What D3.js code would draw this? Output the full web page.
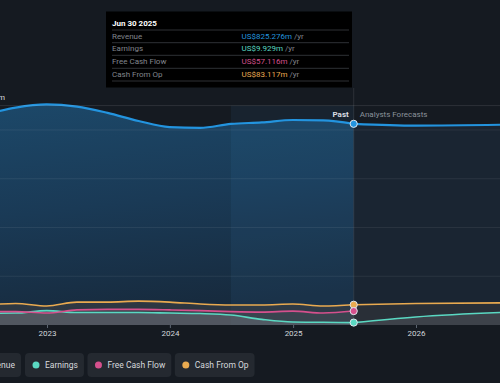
<!DOCTYPE html>
<html><head><meta charset="utf-8">
<script src="https://cdn.jsdelivr.net/npm/d3@7"></script>
<style>
html,body{margin:0;padding:0;background:#151a21;}
svg{display:block;font-family:Roboto,"Open Sans",sans-serif;}
</style></head><body>
<svg id="c" width="500" height="383"></svg>
<script>
// ---- data ----
const pastDates = ["2022-06-30","2022-09-30","2022-12-31","2023-03-31","2023-06-30","2023-09-30","2023-12-31","2024-03-31","2024-06-30","2024-09-30","2024-12-31","2025-03-31","2025-06-30"];
const revenue   = [862, 892, 905, 896, 870, 837, 812, 809, 825, 831, 841, 839, 825.276];
const earnings  = [48, 49, 59, 51, 51, 51, 49, 47, 41, 23, 12, 11, 9.929];
const fcf       = [55, 55, 49, 62, 64, 64, 62, 59, 55, 53, 57, 49, 57.116];
const cfo       = [82, 88, 78, 94, 94, 98, 94, 86, 82, 82, 86, 78, 83.117];
const fcDates    = ["2025-06-30","2025-12-31","2026-12-31"];
const fcRevenue  = [825.276, 818, 824];
const fcEarnings = [9.929, 33, 57];
const fcCfo      = [83.117, 88, 92];
const yTicks = [0, 200, 400, 600, 800, 900];
const xTickYears = [2023, 2024, 2025, 2026];
const seriesNames = ["Revenue","Earnings","Free Cash Flow","Cash From Op"];
const seriesColors = ["#2394df","#5ad8c2","#d5508d","#e9aa50"];
const tipValues = ["US$825.276m","US$9.929m","US$57.116m","US$83.117m"];
const tipDate = "Jun 30 2025";
const yLabel = "US$900m";

// ---- setup ----
const svg = d3.select("#c");
const W = 500;
const parse = d3.timeParse("%Y-%m-%d");
const x = d3.scaleTime().domain([new Date(2023,0,1), new Date(2026,0,1)]).range([47, 416]);
const y = d3.scaleLinear().domain([0, 900]).range([325, 105.6]);
const nowDate = parse("2025-06-30");
const nowX = x(nowDate);
const bandX = x(parse("2024-06-30"));

const mk = (dates, vals) => dates.map((d,i)=>({d:parse(d), v:vals[i]}));
const past = {rev: mk(pastDates, revenue), earn: mk(pastDates, earnings), fcf: mk(pastDates, fcf), cfo: mk(pastDates, cfo)};
const fc = {rev: mk(fcDates, fcRevenue), earn: mk(fcDates, fcEarnings), cfo: mk(fcDates, fcCfo)};

const curve = d3.curveMonotoneX;
const line = d3.line().x(p=>x(p.d)).y(p=>y(p.v)).curve(curve);
const area = d3.area().x(p=>x(p.d)).y0(y(0)).y1(p=>y(p.v)).curve(curve);

const defs = svg.append("defs");
const g1 = defs.append("linearGradient").attr("id","pastGrad").attr("x1","0").attr("y1","0").attr("x2","0.2").attr("y2","1");
g1.append("stop").attr("offset","0").attr("stop-color","#1c4869");
g1.append("stop").attr("offset","0.5").attr("stop-color","#1a3a56");
g1.append("stop").attr("offset","1").attr("stop-color","#172a3d");
defs.append("clipPath").attr("id","clipPast").append("rect").attr("x",-10).attr("y",0).attr("width",nowX+10).attr("height",383);
defs.append("clipPath").attr("id","clipFc").append("rect").attr("x",nowX).attr("y",0).attr("width",W).attr("height",383);

// revenue areas
svg.append("path").datum(past.rev).attr("d",area).attr("fill","url(#pastGrad)").attr("clip-path","url(#clipPast)");
svg.append("path").datum(fc.rev).attr("d",area).attr("fill","#1a2532").attr("clip-path","url(#clipFc)");

// highlight band (last year)
svg.append("rect").attr("x",bandX).attr("y",y(900)).attr("width",nowX-bandX).attr("height",y(0)-y(900))
  .attr("fill","#3b93d6").attr("opacity",0.08);

// gridlines
svg.append("g").selectAll("line").data(yTicks.filter(t=>t>0 && t<900)).join("line")
  .attr("x1",0).attr("x2",W).attr("y1",d=>y(d)).attr("y2",d=>y(d))
  .attr("stroke","#ffffff").attr("stroke-opacity",0.07).attr("stroke-width",1);

// lower series areas
const lowFill = (data, clip, color, op) => svg.append("path").datum(data).attr("d",area)
  .attr("fill",color).attr("fill-opacity",op).attr("clip-path",clip);
lowFill(past.cfo, "url(#clipPast)", "#3c3f44", 0.6);
lowFill(past.fcf, "url(#clipPast)", "#6a6d72", 0.2);
lowFill(past.earn, "url(#clipPast)", "#8e9196", 0.28);
lowFill(fc.cfo, "url(#clipFc)", "#34373b", 0.6);
lowFill(fc.earn, "url(#clipFc)", "#7a7d82", 0.25);

// now line
svg.append("line").attr("x1",nowX).attr("x2",nowX).attr("y1",88).attr("y2",y(0))
  .attr("stroke","#ffffff").attr("stroke-opacity",0.1);

// lines
const drawLine = (data, color, w) => svg.append("path").datum(data).attr("d",line)
  .attr("fill","none").attr("stroke",color).attr("stroke-width",w);
drawLine(past.earn, seriesColors[1], 1.6);
drawLine(fc.earn, seriesColors[1], 1.6);
drawLine(past.fcf, seriesColors[2], 1.6);
drawLine(past.cfo, seriesColors[3], 1.6);
drawLine(fc.cfo, seriesColors[3], 1.6);
drawLine(past.rev, seriesColors[0], 2.2);
drawLine(fc.rev, seriesColors[0], 2.2);

// points at now
const nowPts = [[revenue.at(-1),0],[cfo.at(-1),3],[fcf.at(-1),2],[earnings.at(-1),1]];
svg.append("g").selectAll("circle").data(nowPts).join("circle")
  .attr("cx",nowX).attr("cy",d=>y(d[0])).attr("r",3.6)
  .attr("fill",d=>seriesColors[d[1]]).attr("stroke","#dfe6ee").attr("stroke-width",1);

// top line & y label
svg.append("line").attr("x1",0).attr("x2",W).attr("y1",y(900)).attr("y2",y(900))
  .attr("stroke","#ffffff").attr("stroke-opacity",0.1);
svg.append("text").attr("x",5).attr("y",y(900)-6).attr("text-anchor","end")
  .attr("font-size",8).attr("fill","#d5d8dc").text(yLabel);

// past / forecast labels
svg.append("text").attr("x",nowX-5).attr("y",117).attr("text-anchor","end")
  .attr("font-size",8).attr("font-weight","bold").attr("fill","#d9dde2").text("Past");
svg.append("text").attr("x",nowX+6).attr("y",117)
  .attr("font-size",8).attr("fill","#8b929b").text("Analysts Forecasts");

// x axis
const xAxis = d3.axisBottom(x).tickValues(xTickYears.map(yr=>new Date(yr,0,1)))
  .tickFormat(d3.timeFormat("%Y")).tickSize(3).tickPadding(2);
const ax = svg.append("g").attr("transform",`translate(0,${y(0)})`).call(xAxis);
ax.select(".domain").remove();
ax.selectAll("line").attr("stroke","#5b6470");
ax.selectAll("text").attr("fill","#d2d6db").attr("font-size",8).attr("font-family","Roboto,sans-serif");

// tooltip
const tip = svg.append("g");
tip.append("rect").attr("x",106).attr("y",11.5).attr("width",246).attr("height",76).attr("fill","#000000");
tip.append("text").attr("x",112).attr("y",25.5).attr("font-size",8).attr("font-weight","bold").attr("fill","#ffffff").text(tipDate);
const rowY = [38.5, 51, 64, 77];
const sepY = [30, 42.7, 55.3, 68.3, 81];
tip.selectAll("line.sep").data(sepY).join("line").attr("class","sep")
  .attr("x1",112).attr("x2",349).attr("y1",d=>d).attr("y2",d=>d).attr("stroke","#2e3135").attr("stroke-width",1);
seriesNames.forEach((n,i)=>{
  tip.append("text").attr("x",112).attr("y",rowY[i]).attr("font-size",8).attr("fill","#80858c").text(n);
  const t = tip.append("text").attr("x",241.5).attr("y",rowY[i]).attr("font-size",8);
  t.append("tspan").attr("fill",seriesColors[i]).text(tipValues[i]);
  t.append("tspan").attr("fill","#80858c").text(" /yr");
});

// legend pills
const leg = svg.append("g");
const pillY = 353, pillH = 24;
const items = seriesNames.map((n,i)=>{
  const gi = leg.append("g");
  const r = gi.append("rect").attr("y",pillY).attr("height",pillH).attr("rx",4).attr("fill","#242930");
  const c = gi.append("circle").attr("cy",pillY+pillH/2).attr("r",3.5).attr("fill",seriesColors[i]);
  const t = gi.append("text").attr("y",pillY+pillH/2+3).attr("font-size",8.5).attr("fill","#d6d9dd").text(n);
  const tw = t.node().getComputedTextLength();
  return {r,c,t,w: tw+26};
});
let startE = 25;
let xs = [];
xs[1] = startE;
xs[0] = startE - 4 - items[0].w;
xs[2] = xs[1] + items[1].w + 3.5;
xs[3] = xs[2] + items[2].w + 3.5;
items.forEach((it,i)=>{
  it.r.attr("x",xs[i]).attr("width",it.w);
  it.c.attr("cx",xs[i]+11);
  it.t.attr("x",xs[i]+20);
});
</script>
</body></html>
